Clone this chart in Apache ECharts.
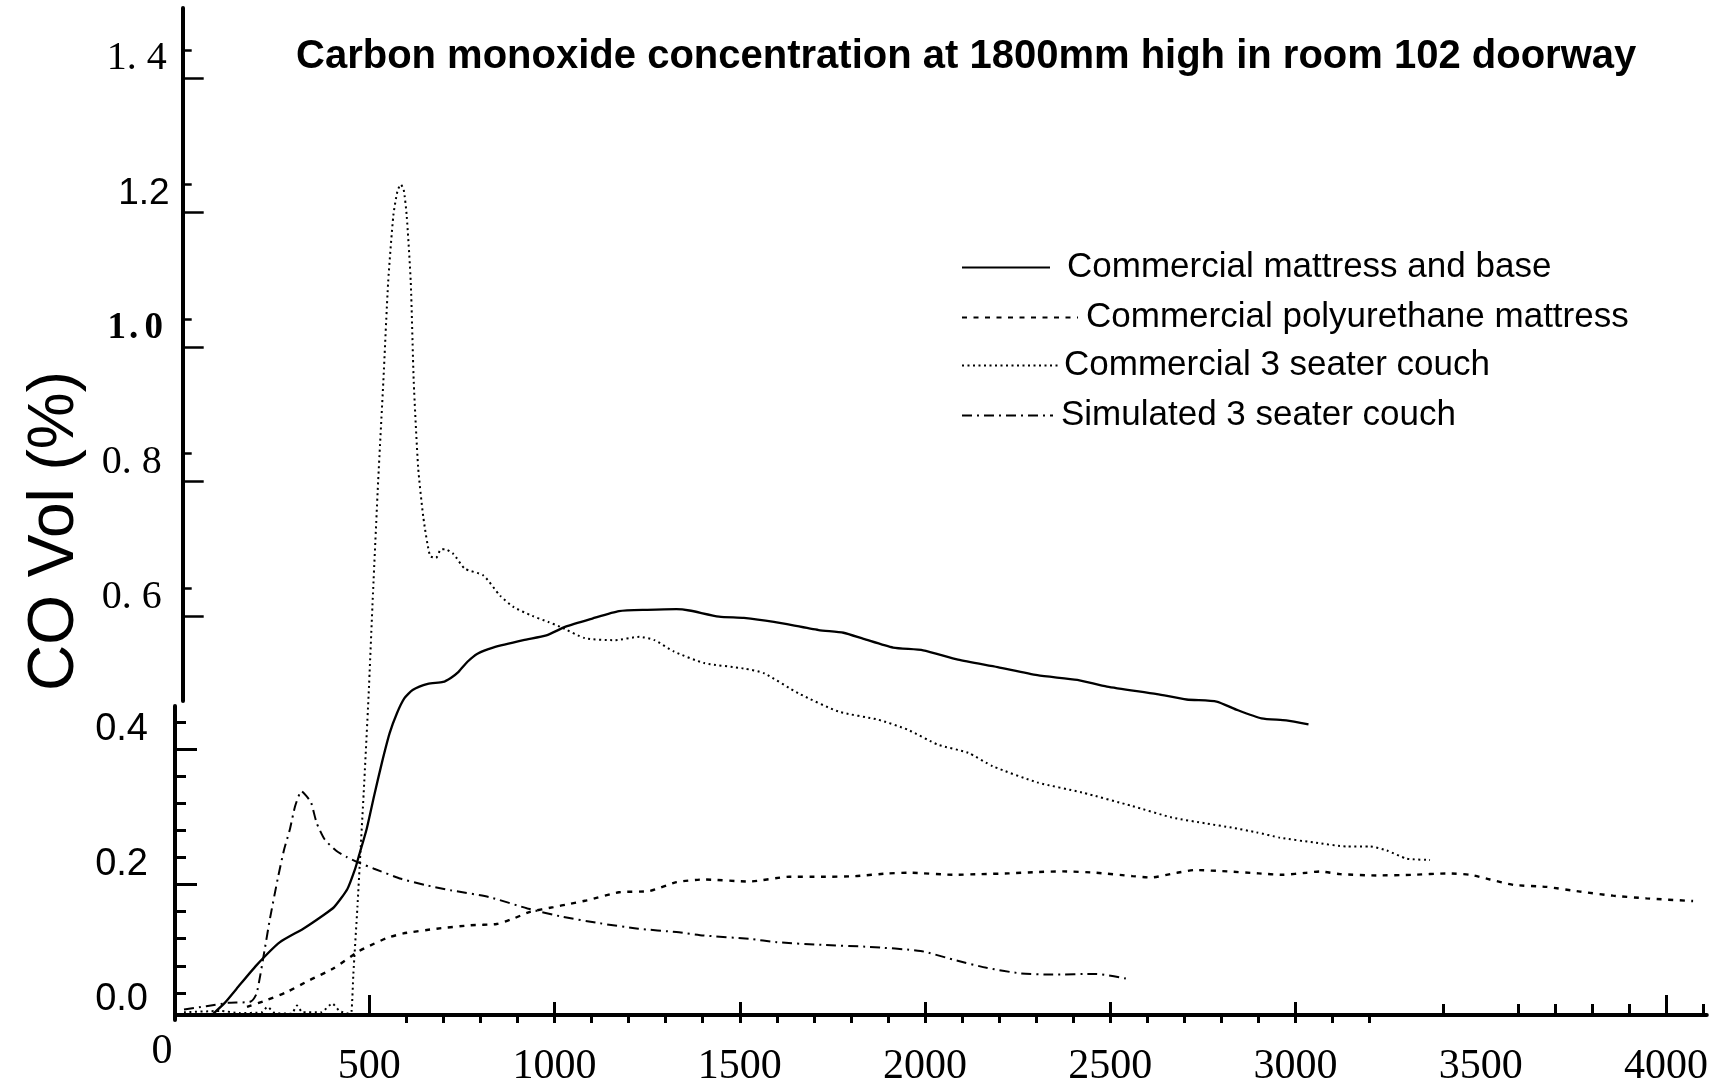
<!DOCTYPE html>
<html>
<head>
<meta charset="utf-8">
<script src="https://cdn.jsdelivr.net/npm/echarts@6/dist/echarts.min.js"></script>
<style>
  html, body { margin: 0; padding: 0; background: #fff; }
  #chart { width: 1719px; height: 1088px; }
</style>
</head>
<body>
<div id="chart"></div>
<script>
// ---- text ----
const titleText = 'Carbon monoxide concentration at 1800mm high in room 102 doorway';
const yAxisName = 'CO Vol (%)';
const seriesNames = [
  'Commercial mattress and base',
  'Commercial polyurethane mattress',
  'Commercial 3 seater couch',
  'Simulated 3 seater couch'
];

// ---- tick labels ----
const xLabelValues = [0, 500, 1000, 1500, 2000, 2500, 3000, 3500, 4000];
const xTickLabels = ['0', '500', '1000', '1500', '2000', '2500', '3000', '3500', '4000'];
const upperYValues = [0.6, 0.8, 1.0, 1.2, 1.4];
const upperYLabels = ['0. 6', '0. 8', '1.0', '1.2', '1. 4'];
const lowerYValues = [0, 0.2, 0.4];
const lowerYLabels = ['0.0', '0.2', '0.4'];

// ---- series: [time, CO vol %] ----
const mattressBase = [
  [75, 0.0], [110, 0.018], [142, 0.039], [196, 0.074], [259, 0.108], [322, 0.128],
  [376, 0.148], [405, 0.160], [441, 0.187], [462, 0.217], [472, 0.236], [493, 0.276],
  [513, 0.325], [534, 0.374], [555, 0.418], [575, 0.448], [595, 0.470], [617, 0.482],
  [658, 0.491], [699, 0.494], [720, 0.500], [741, 0.509], [765, 0.524], [792, 0.536],
  [834, 0.545], [916, 0.556], [978, 0.563], [1030, 0.576], [1102, 0.588], [1174, 0.599],
  [1250, 0.601], [1329, 0.602], [1364, 0.600], [1444, 0.591], [1511, 0.589], [1592, 0.583],
  [1713, 0.571], [1780, 0.567], [1834, 0.558], [1914, 0.545], [1995, 0.541], [2089, 0.527],
  [2196, 0.516], [2303, 0.504], [2411, 0.497], [2491, 0.487], [2626, 0.476], [2706, 0.468],
  [2787, 0.465], [2840, 0.453], [2908, 0.440], [2975, 0.437], [3035, 0.431]
];

const polyurethaneMattress = [
  [170, 0.012], [223, 0.022], [277, 0.034], [340, 0.052], [403, 0.069], [470, 0.094],
  [502, 0.103], [547, 0.114], [592, 0.121], [682, 0.128], [772, 0.133], [844, 0.135],
  [889, 0.143], [934, 0.153], [997, 0.160], [1042, 0.165], [1087, 0.170], [1174, 0.182],
  [1257, 0.184], [1329, 0.197], [1402, 0.201], [1526, 0.198], [1633, 0.205], [1720, 0.205],
  [1811, 0.206], [1900, 0.210], [1959, 0.211], [2077, 0.208], [2150, 0.209], [2225, 0.210],
  [2300, 0.212], [2373, 0.213], [2462, 0.211], [2560, 0.206], [2610, 0.204], [2680, 0.211],
  [2728, 0.215], [2817, 0.213], [2900, 0.210], [2967, 0.208], [3030, 0.211], [3066, 0.213],
  [3120, 0.209], [3219, 0.207], [3318, 0.208], [3408, 0.210], [3471, 0.208], [3525, 0.201],
  [3588, 0.193], [3678, 0.190], [3768, 0.183], [3857, 0.177], [3947, 0.173], [4073, 0.169]
];

const commercialCouch = [
  [0, 0.004], [100, 0.006], [150, 0.003], [210, 0.004], [225, 0.012], [245, 0.003],
  [290, 0.002], [305, 0.014], [320, 0.004], [370, 0.004], [400, 0.017], [420, 0.006],
  [445, 0.002], [452, 0.005], [457, 0.06], [468, 0.16], [476, 0.24], [485, 0.33],
  [498, 0.472], [510, 0.625], [524, 0.792], [538, 0.940], [551, 1.087], [565, 1.186],
  [576, 1.222], [585, 1.232], [593, 1.224], [601, 1.186], [612, 1.087], [620, 0.940],
  [632, 0.812], [646, 0.738], [664, 0.681], [680, 0.678], [692, 0.690], [704, 0.691],
  [727, 0.684], [758, 0.662], [808, 0.652], [853, 0.622], [890, 0.605], [940, 0.592],
  [983, 0.583], [1015, 0.576], [1082, 0.559], [1162, 0.556], [1229, 0.561], [1270, 0.556],
  [1323, 0.539], [1404, 0.522], [1511, 0.514], [1565, 0.507], [1659, 0.477], [1767, 0.450],
  [1874, 0.438], [1954, 0.423], [2035, 0.401], [2116, 0.389], [2183, 0.369], [2303, 0.345],
  [2424, 0.330], [2559, 0.310], [2666, 0.293], [2760, 0.284], [2827, 0.278], [2894, 0.271],
  [2958, 0.263], [3048, 0.256], [3138, 0.250], [3201, 0.250], [3246, 0.244], [3300, 0.232],
  [3363, 0.230]
];

const simulatedCouch = [
  [0, 0.008], [60, 0.013], [120, 0.018], [180, 0.020], [196, 0.032], [218, 0.098],
  [232, 0.143], [254, 0.205], [270, 0.245], [286, 0.276], [300, 0.310], [317, 0.332],
  [330, 0.325], [343, 0.315], [358, 0.285], [379, 0.261], [410, 0.244], [440, 0.234],
  [472, 0.226], [513, 0.217], [586, 0.202], [650, 0.193], [720, 0.185], [823, 0.175],
  [927, 0.158], [1019, 0.146], [1123, 0.136], [1226, 0.128], [1329, 0.123], [1402, 0.118],
  [1526, 0.113], [1600, 0.108], [1722, 0.104], [1850, 0.101], [1988, 0.095], [2077, 0.082],
  [2166, 0.070], [2254, 0.062], [2343, 0.060], [2462, 0.061], [2542, 0.054]
];

// ---- helpers ----
function steps(from, to, step) {
  const out = [];
  for (let v = from; v <= to + 1e-9; v += step) out.push(Math.round(v * 1000) / 1000);
  return out;
}
function labelIndex(values, v) {
  for (let i = 0; i < values.length; i++) if (Math.abs(values[i] - v) < 1e-6) return i;
  return -1;
}

const SERIF = '"Liberation Serif", "Times New Roman", serif';
const SANS = '"Liberation Sans", Arial, sans-serif';
const INK = '#000';

// x-axis tick sets
const xDownTicks = steps(600, 3200, 100);
const xMajorTicks = [1000, 1500, 2000, 2500, 3000];
const xTallTicks = [500, 4000];
const xRightTicks = [3400, 3600, 3700, 3800, 3900, 4100];

// lower y-axis ticks
const lowerMinorTicks = steps(0.04, 0.44, 0.04).filter(v => Math.abs(v - 0.2) > 1e-6 && Math.abs(v - 0.4) > 1e-6);
const lowerMajorTicks = [0.2, 0.4];

// upper y-axis segment: each value tick has a short companion tick just above it
const upperShortTicks = upperYValues.map(v => Math.round((v + 0.0416) * 10000) / 10000);

// rich-text keys for the upper labels (mixed type faces on this axis)
const upperStyleKind = ['t', 't', 'b', 'a', 's'];
function upperRich(label, kind) {
  if (kind !== 'b') return '{' + kind + '|' + label + '}';
  let out = '';
  for (const ch of label) out += '{b' + (ch === '.' ? 'd' : (ch === '1' ? 'o' : 'n')) + '|' + ch + '}';
  return out;
}

const X_MIN = -20, X_MAX = 4110;

const hiddenX = (gridIndex) => ({ type: 'value', gridIndex, min: 0, max: 1, show: false });

const xOverlay = (ticks, inside, length) => ({
  type: 'value', gridIndex: 0, position: 'bottom', min: X_MIN, max: X_MAX,
  axisLine: { show: false },
  axisTick: { show: true, inside, length, customValues: ticks, lineStyle: { color: INK, width: 3 } },
  axisLabel: { show: false },
  splitLine: { show: false }
});

const lineSeries = (name, data, lineStyle) => ({
  name, type: 'line', data, xAxisIndex: 0, yAxisIndex: 0,
  symbol: 'none', smooth: 0.2, silent: true,
  lineStyle: Object.assign({ color: INK }, lineStyle),
  itemStyle: { color: INK },
  z: 5
});

const legendRows = [
  { top: 268, width: 88, gap: 12 },
  { top: 318, width: 116, gap: 3 },
  { top: 366, width: 97, gap: 0 },
  { top: 416, width: 91, gap: 3 }
];

const upperMin = 0.474, upperMax = 1.50372;

const option = {
  animation: false,
  backgroundColor: '#fff',
  title: {
    text: titleText,
    left: 296, top: 37, padding: 0,
    textStyle: { fontFamily: SANS, fontWeight: 'bold', fontSize: 40, color: INK }
  },
  legend: legendRows.map((r, i) => ({
    data: [seriesNames[i]],
    orient: 'vertical',
    left: 961, top: r.top - 18, padding: 0,
    itemWidth: r.width, itemHeight: 14,
    selectedMode: false,
    itemStyle: { color: 'rgba(0,0,0,0)', borderWidth: 0, opacity: 0 },
    textStyle: { fontFamily: SANS, fontSize: 35, color: INK, padding: [0, 0, 0, r.gap] }
  })),
  grid: [
    { left: 176.6, right: 12.2, top: 3.75, bottom: 68 },
    { left: 175, width: 20, top: 706, bottom: 68 },
    { left: 182.7, width: 20, top: 8, height: 693 }
  ],
  xAxis: [
    {
      type: 'value', gridIndex: 0, position: 'bottom', min: X_MIN, max: X_MAX,
      axisLine: { show: true, lineStyle: { color: INK, width: 4 } },
      axisTick: { show: true, inside: false, length: 8, customValues: xDownTicks, lineStyle: { color: INK, width: 3 } },
      axisLabel: {
        show: true, customValues: xLabelValues, margin: 52, verticalAlign: 'middle',
        formatter: (v) => {
          const i = labelIndex(xLabelValues, v);
          const t = i >= 0 ? xTickLabels[i] : '';
          return v === 0 ? '{z|' + t + '}' : '{x|' + t + '}';
        },
        rich: {
          x: { fontFamily: SERIF, fontSize: 42, color: INK },
          z: { fontFamily: SERIF, fontSize: 42, color: INK, padding: [0, 44, 30, 0] }
        }
      },
      splitLine: { show: false }
    },
    xOverlay(xMajorTicks, true, 13),
    xOverlay(xTallTicks, true, 20),
    xOverlay(xRightTicks, true, 11),
    hiddenX(1),
    hiddenX(2)
  ],
  yAxis: [
    // data scale
    { type: 'value', gridIndex: 0, min: 0, max: 1.5, show: false },
    // lower segment: line + minor ticks
    {
      type: 'value', gridIndex: 1, position: 'left', min: 0, max: 0.4635,
      axisLine: { show: true, lineStyle: { color: INK, width: 4 } },
      axisTick: { show: true, inside: true, length: 11, customValues: lowerMinorTicks, lineStyle: { color: INK, width: 3 } },
      axisLabel: { show: false },
      splitLine: { show: false }
    },
    // lower segment: major ticks + labels
    {
      type: 'value', gridIndex: 1, position: 'left', min: 0, max: 0.4635,
      axisLine: { show: false },
      axisTick: { show: true, inside: true, length: 22, customValues: lowerMajorTicks, lineStyle: { color: INK, width: 3 } },
      axisLabel: {
        show: true, customValues: lowerYValues, margin: 27,
        verticalAlign: 'bottom', lineHeight: 40,
        formatter: (v) => { const i = labelIndex(lowerYValues, v); return i >= 0 ? lowerYLabels[i] : ''; },
        fontFamily: SANS, fontSize: 38, color: INK
      },
      splitLine: { show: false }
    },
    // upper segment: line + value ticks + labels
    {
      type: 'value', gridIndex: 2, position: 'left', min: upperMin, max: upperMax,
      axisLine: { show: true, lineStyle: { color: INK, width: 4 } },
      axisTick: { show: true, inside: true, length: 21, customValues: upperYValues, lineStyle: { color: INK, width: 2.5 } },
      axisLabel: {
        show: true, customValues: upperYValues, margin: 13, verticalAlign: 'bottom',
        formatter: (v) => {
          const i = labelIndex(upperYValues, v);
          return i >= 0 ? upperRich(upperYLabels[i], upperStyleKind[i]) : '';
        },
        rich: {
          s: { fontFamily: SERIF, fontSize: 40, color: INK, lineHeight: 38, padding: [0, 3, 0, 0] },
          t: { fontFamily: SERIF, fontSize: 40, color: INK, lineHeight: 38, padding: [0, 8, 0, 0] },
          a: { fontFamily: SANS, fontSize: 37, color: INK, lineHeight: 38 },
          bo: { fontFamily: SERIF, fontWeight: 'bold', fontSize: 37, color: INK, lineHeight: 38, width: 20, align: 'center' },
          bd: { fontFamily: SERIF, fontWeight: 'bold', fontSize: 37, color: INK, lineHeight: 38, width: 14, align: 'center' },
          bn: { fontFamily: SERIF, fontWeight: 'bold', fontSize: 37, color: INK, lineHeight: 38, width: 26, align: 'center', padding: [0, 3, 0, 0] }
        }
      },
      splitLine: { show: false }
    },
    // upper segment: short companion ticks
    {
      type: 'value', gridIndex: 2, position: 'left', min: upperMin, max: upperMax,
      axisLine: { show: false },
      axisTick: { show: true, inside: true, length: 9, customValues: upperShortTicks, lineStyle: { color: INK, width: 2.5 } },
      axisLabel: { show: false },
      splitLine: { show: false }
    }
  ],
  graphic: [
    {
      type: 'text', x: 55, y: 531, rotation: Math.PI / 2,
      style: { text: yAxisName, font: '64px "Liberation Sans", Arial, sans-serif', fill: INK, align: 'center', verticalAlign: 'middle' }
    }
  ],
  series: [
    lineSeries(seriesNames[0], mattressBase, { width: 2.3, type: 'solid' }),
    lineSeries(seriesNames[1], polyurethaneMattress, { width: 2.4, type: [5, 6.5] }),
    lineSeries(seriesNames[2], commercialCouch, { width: 2, type: [2, 3.5] }),
    lineSeries(seriesNames[3], simulatedCouch, { width: 2, type: [10, 5, 2, 5] })
  ]
};

const chart = echarts.init(document.getElementById('chart'), null, { renderer: 'canvas' });
chart.setOption(option);
</script>
</body>
</html>
